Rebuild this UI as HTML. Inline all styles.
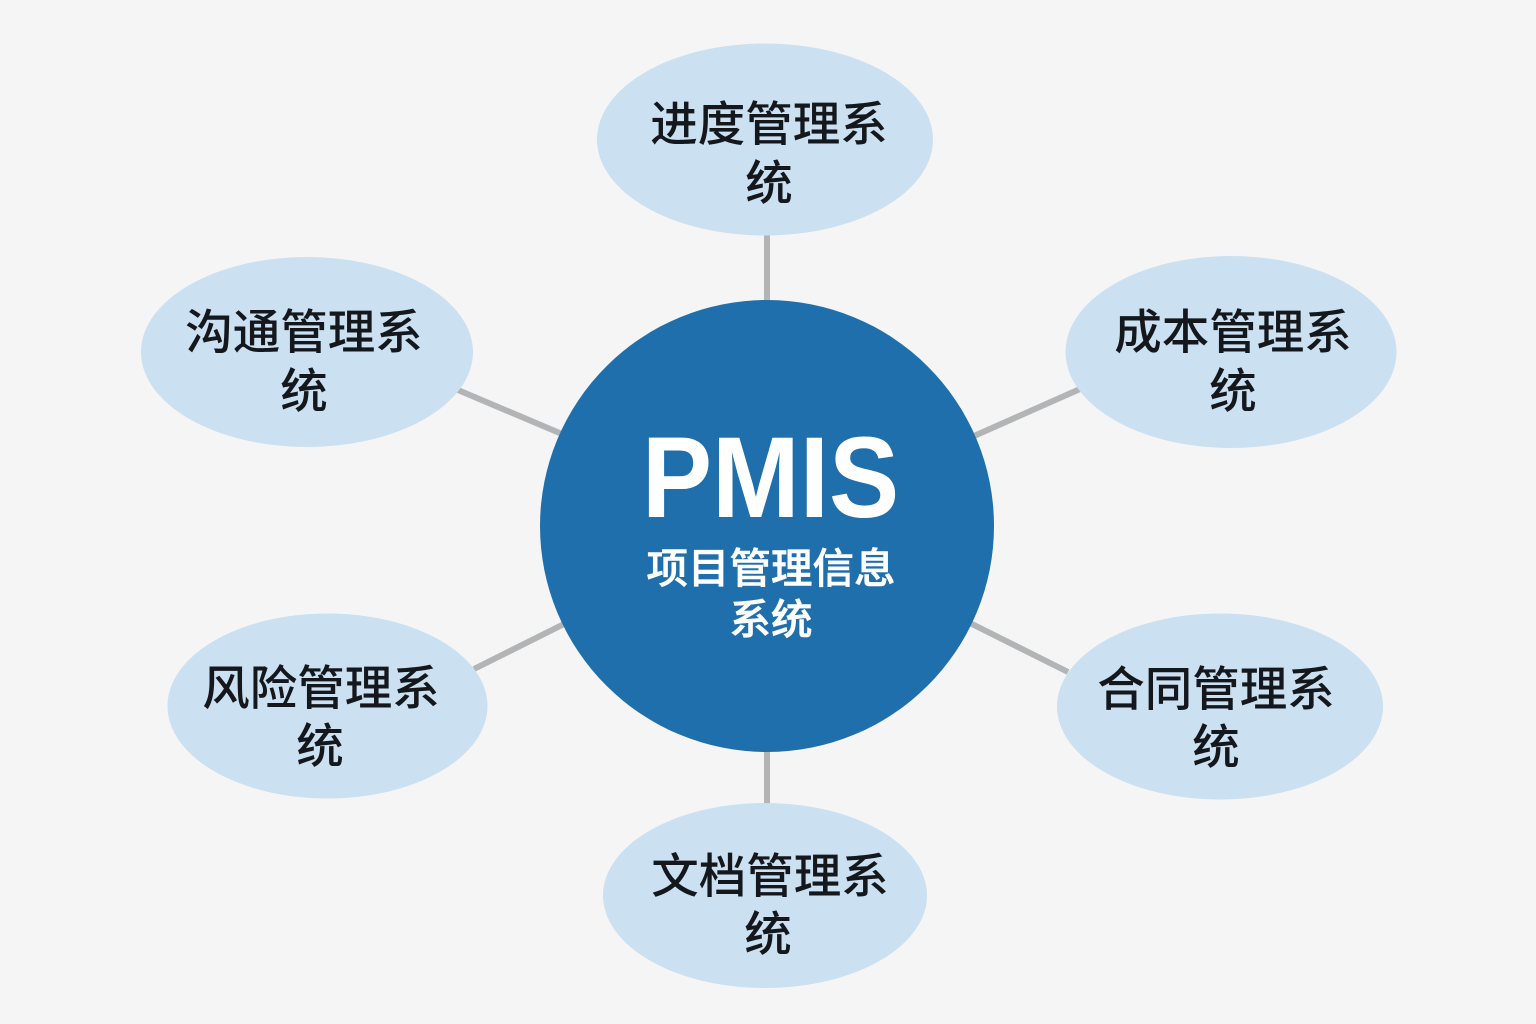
<!DOCTYPE html>
<html lang="zh">
<head>
<meta charset="utf-8">
<style>
html,body{margin:0;padding:0;background:#f5f5f5;}
svg{display:block;}
text{text-anchor:middle;font-family:"Liberation Sans","Noto Sans CJK SC",sans-serif;}
.n{font-size:47.500px;fill:#14181d;font-weight:500;}
.c{font-size:41.500px;fill:#fff;font-weight:500;stroke:#fff;stroke-width:.6px;}
</style>
</head>
<body>
<svg width="1536" height="1024" viewBox="0 0 1536 1024" xmlns="http://www.w3.org/2000/svg">
<rect width="1536" height="1024" fill="#f5f5f5"/>
<g stroke="#b2b4b6" stroke-width="6">
<line x1="767" y1="232" x2="767" y2="304"/>
<line x1="767" y1="748" x2="767" y2="806"/>
<line x1="458" y1="390" x2="562" y2="434"/>
<line x1="1080" y1="389" x2="974" y2="436"/>
<line x1="474" y1="669" x2="566" y2="623"/>
<line x1="1068" y1="672" x2="970" y2="623"/>
</g>
<g fill="#cbe0f1">
<ellipse cx="765" cy="139.500" rx="168" ry="96"/>
<ellipse cx="307" cy="352" rx="166" ry="95"/>
<ellipse cx="1231" cy="352" rx="165.500" ry="96"/>
<ellipse cx="327.500" cy="706" rx="160" ry="92.500"/>
<ellipse cx="1220" cy="706.500" rx="163" ry="93"/>
<ellipse cx="765" cy="895.500" rx="162" ry="92.500"/>
</g>
<ellipse cx="767" cy="526" rx="227" ry="226" fill="#1f6fad"/>
<text class="n" x="769" y="141">进度管理系</text>
<text class="n" x="769" y="200">统</text>
<text class="n" x="304" y="349">沟通管理系</text>
<text class="n" x="304" y="408">统</text>
<text class="n" x="1233" y="349">成本管理系</text>
<text class="n" x="1233" y="408">统</text>
<text class="n" x="321" y="705">风险管理系</text>
<text class="n" x="320" y="763">统</text>
<text class="n" x="1216" y="706">合同管理系</text>
<text class="n" x="1216" y="764">统</text>
<text class="n" x="770" y="893">文档管理系</text>
<text class="n" x="768" y="951">统</text>
<text transform="translate(770.500,517) scale(.915,1)" fill="#ffffff" font-size="115" font-weight="700" style="font-family:'Liberation Sans',sans-serif">PMIS</text>
<text class="c" x="771" y="583">项目管理信息</text>
<text class="c" x="771" y="634">系统</text>
</svg>
</body>
</html>
